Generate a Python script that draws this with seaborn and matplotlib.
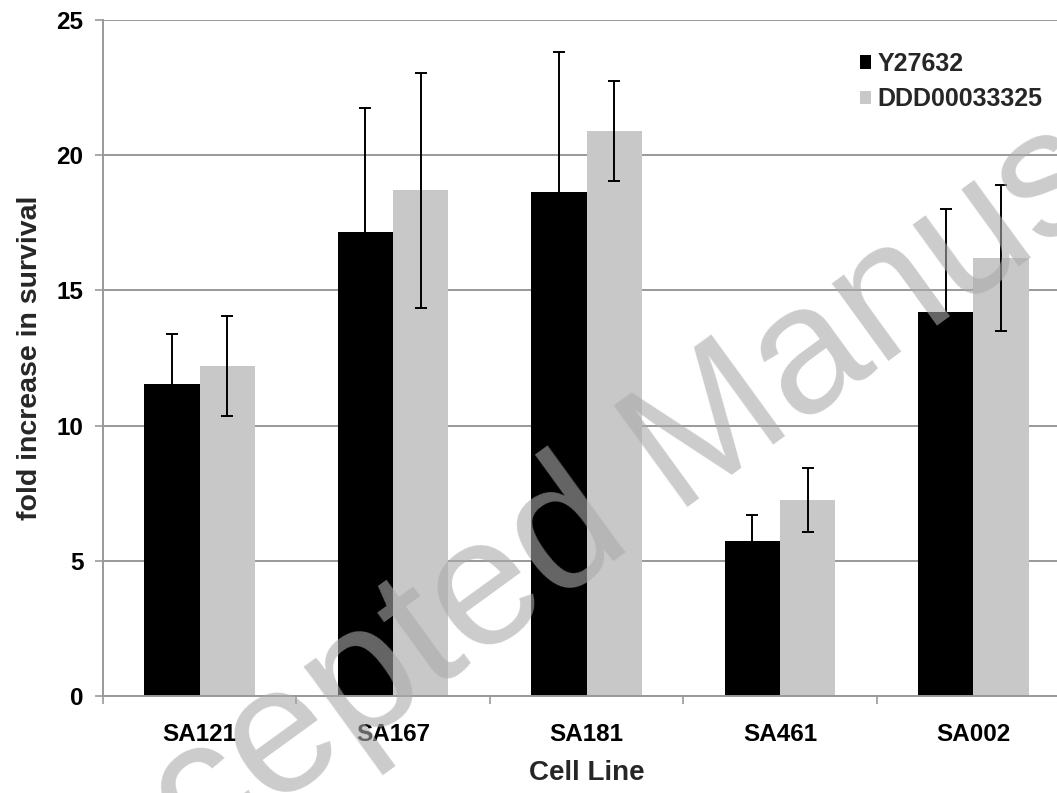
import numpy as np
import pandas as pd
import matplotlib
matplotlib.use("Agg")
import matplotlib.pyplot as plt
import seaborn as sns
from matplotlib.ticker import FixedLocator, NullFormatter

cell_lines = ["SA121", "SA167", "SA181", "SA461", "SA002"]
series = ["Y27632", "DDD00033325"]
y27632 = [11.55, 17.15, 18.65, 5.75, 14.2]
y27632_err = [1.85, 4.6, 5.15, 0.95, 3.8]
ddd = [12.2, 18.7, 20.9, 7.25, 16.2]
ddd_err = [1.85, 4.35, 1.85, 1.2, 2.7]
yticks = [0, 5, 10, 15, 20, 25]

sns.set_theme(style="white")
plt.rcParams['font.family'] = ['Liberation Sans', 'DejaVu Sans']

df = pd.DataFrame({
    "Cell Line": cell_lines * 2,
    "value": y27632 + ddd,
    "err": y27632_err + ddd_err,
    "series": [series[0]] * 5 + [series[1]] * 5,
})

W, H = 1057, 793
fig = plt.figure(figsize=(W / 100, H / 100), dpi=100)
ax = fig.add_axes([103 / W, (H - 696) / H, (1070 - 103) / W, (696 - 20) / H])

sns.barplot(data=df, x="Cell Line", y="value", hue="series", order=cell_lines,
            hue_order=series, palette=["#000000", "#c8c8c8"], errorbar=None,
            width=0.572, gap=0, saturation=1, linewidth=0, ax=ax, zorder=2)

# error bars at bar centres
bars = [p for p in ax.patches if p.get_height() > 0]
errs = y27632_err + ddd_err
vals = y27632 + ddd
for p, v, e in zip(bars, vals, errs):
    xc = p.get_x() + p.get_width() / 2
    ax.errorbar(xc, v, yerr=e, fmt="none", ecolor="black", elinewidth=1.4,
                capsize=4.5, capthick=1.4, zorder=3)

ax.set_xlim(-0.5, 4.5)
ax.set_ylim(0, 25)
ax.set_yticks(yticks)
ax.yaxis.grid(True, color="#999999", linewidth=1.4, zorder=0)
ax.set_axisbelow(True)
for s in ["top", "right"]:
    ax.spines[s].set_visible(False)
for s in ["left", "bottom"]:
    ax.spines[s].set_color("#999999")
    ax.spines[s].set_linewidth(1.4)

ax.tick_params(axis="y", which="major", left=True, length=6, width=1.2, color="#999999",
               labelsize=17.5, pad=8)
ax.tick_params(axis="x", which="major", bottom=False, labelsize=17.5, pad=13.5)
ax.xaxis.set_minor_locator(FixedLocator(np.arange(-0.5, 5, 1)))
ax.xaxis.set_minor_formatter(NullFormatter())
ax.tick_params(axis="x", which="minor", bottom=True, length=6, width=1.2, color="#999999")
for lab in ax.get_xticklabels() + ax.get_yticklabels():
    lab.set_fontweight("bold")
    lab.set_color("black")

ax.set_xlabel("Cell Line", fontsize=20, fontweight="bold", labelpad=10)
ax.set_ylabel("fold increase in survival", fontsize=20.5, fontweight="bold", labelpad=10)

leg = ax.legend(loc="upper left", bbox_to_anchor=(860 / W, 1 - 52 / H),
                bbox_transform=fig.transFigure, frameon=False,
                prop={"size": 18, "weight": "bold"}, handlelength=0.45,
                handleheight=0.45, handletextpad=0.25, labelspacing=0.45,
                borderaxespad=0, borderpad=0)
leg.set_title(None)

fig.text(708 / W, 1 - 492 / H, "Accepted Manuscript", rotation=36,
         rotation_mode="anchor", ha="center", va="baseline",
         fontsize=130, family=["Liberation Sans", "DejaVu Sans"], color="#aaaaaa",
         alpha=0.6, zorder=10)

fig.savefig("out.png", dpi=100)
